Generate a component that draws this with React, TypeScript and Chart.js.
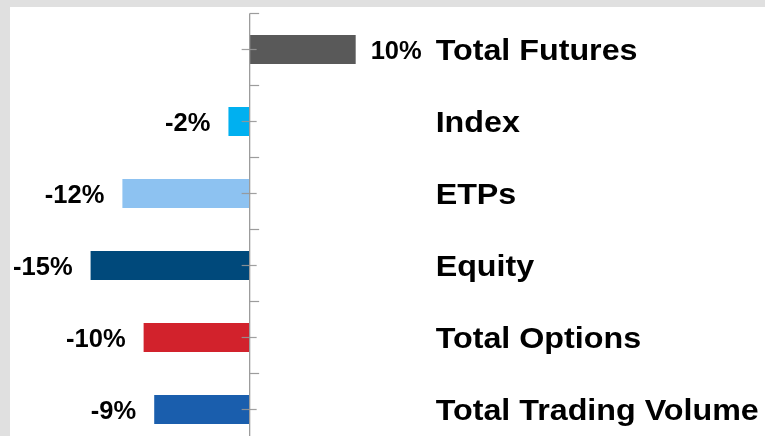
import React, { useEffect, useRef } from "react";
import { Chart, registerables } from "chart.js";

Chart.register(...registerables);

const categories = [
  "Total Futures",
  "Index",
  "ETPs",
  "Equity",
  "Total Options",
  "Total Trading Volume",
];
const changes = [10, -2, -12, -15, -10, -9];
const barColors = ["#595959", "#00B0F0", "#8DC2F1", "#00497B", "#D2222C", "#1A5EAD"];

const FONT_FAMILY = '"Liberation Sans", Arial, Helvetica, sans-serif';

function drawText(
  ctx: CanvasRenderingContext2D,
  text: string,
  x: number,
  y: number,
  align: CanvasTextAlign,
  scaleX: number
) {
  ctx.save();
  ctx.translate(x, y);
  ctx.scale(scaleX, 1);
  ctx.textAlign = align;
  ctx.textBaseline = "alphabetic";
  ctx.fillText(text, 0, 0);
  ctx.restore();
}

const overlayPlugin = {
  id: "overlay",
  afterDatasetsDraw(chart: any) {
    const ctx: CanvasRenderingContext2D = chart.ctx;
    const xScale = chart.scales.x;
    const yScale = chart.scales.y;
    const zero = xScale.getPixelForValue(0);
    const band = Math.abs(yScale.getPixelForValue(1) - yScale.getPixelForValue(0));
    const meta = chart.getDatasetMeta(0);

    ctx.save();
    // axis line
    ctx.strokeStyle = "#9c9c9c";
    ctx.lineWidth = 1.3;
    const top = yScale.getPixelForValue(0) - band / 2;
    ctx.beginPath();
    ctx.moveTo(zero, top);
    ctx.lineTo(zero, chart.height);
    ctx.stroke();
    // boundary ticks (to the right)
    ctx.lineWidth = 1.2;
    for (let i = 0; i <= categories.length; i++) {
      const yb = yScale.getPixelForValue(0) - band / 2 + i * band;
      ctx.beginPath();
      ctx.moveTo(zero, yb);
      ctx.lineTo(zero + 9.5, yb);
      ctx.stroke();
    }
    // center ticks (crossing)
    ctx.strokeStyle = "rgba(150,150,150,0.9)";
    for (let i = 0; i < categories.length; i++) {
      const yc = yScale.getPixelForValue(i);
      ctx.beginPath();
      ctx.moveTo(zero - 8, yc);
      ctx.lineTo(zero + 7, yc);
      ctx.stroke();
    }

    // value labels
    ctx.fillStyle = "#000";
    const valSize = 25.5;
    ctx.font = `bold ${valSize}px ${FONT_FAMILY}`;
    meta.data.forEach((bar: any, i: number) => {
      const v = changes[i];
      const y = bar.y + valSize * 0.358;
      if (v >= 0) {
        drawText(ctx, `${v}%`, bar.x + 15, y, "left", 1);
      } else {
        drawText(ctx, `${v}%`, bar.x - 18, y, "right", 1);
      }
    });

    // category labels
    const catSize = 30;
    ctx.font = `bold ${catSize}px ${FONT_FAMILY}`;
    const labelX = zero + 186;
    categories.forEach((c, i) => {
      const y = yScale.getPixelForValue(i) + catSize * 0.358;
      drawText(ctx, c, labelX, y, "left", 1.075);
    });
    ctx.restore();
  },
};

export default function App() {
  const canvasRef = useRef<HTMLCanvasElement | null>(null);

  useEffect(() => {
    if (!canvasRef.current) return;
    const chart = new Chart(canvasRef.current, {
      type: "bar",
      data: {
        labels: categories,
        datasets: [
          {
            data: changes,
            backgroundColor: barColors,
            borderWidth: 0,
            categoryPercentage: 1,
            barPercentage: 0.4,
          },
        ],
      },
      options: {
        indexAxis: "y",
        animation: false,
        responsive: false,
        events: [],
        layout: { padding: { top: 6.5, bottom: 6.5, left: 0, right: 0 } },
        plugins: {
          legend: { display: false },
          tooltip: { enabled: false },
        },
        scales: {
          x: {
            type: "linear",
            min: -22.6,
            max: 48.6,
            display: false,
          },
          y: {
            type: "category",
            display: false,
            offset: true,
          },
        },
      },
      plugins: [overlayPlugin],
    });
    return () => chart.destroy();
  }, []);

  return (
    <div
      style={{
        position: "fixed",
        left: 0,
        top: 0,
        width: 765,
        height: 436,
        background: "#e0e0e0",
        overflow: "hidden",
      }}
    >
      <div
        style={{
          position: "absolute",
          left: 10,
          top: 7,
          width: 755,
          height: 429,
          background: "#ffffff",
          overflow: "hidden",
        }}
      >
        <canvas ref={canvasRef} width={755} height={445} style={{ display: "block" }} />
      </div>
    </div>
  );
}
